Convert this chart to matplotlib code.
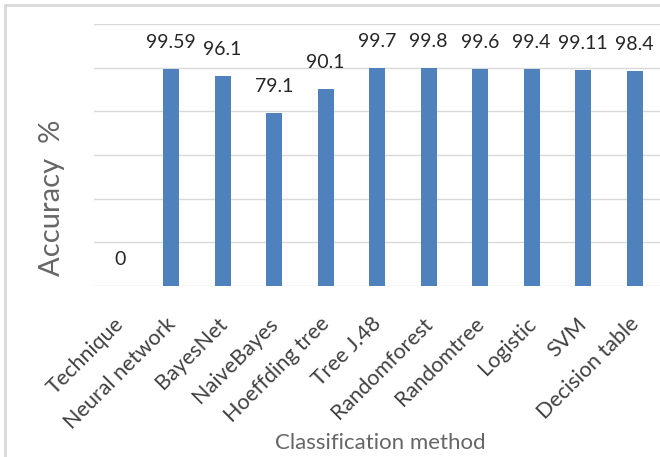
"""
Accuracy by classification method - Excel-style column chart
"""

import matplotlib.pyplot as plt
from matplotlib.patches import Rectangle
from matplotlib.transforms import ScaledTranslation

plt.rcParams['font.family'] = ['Lato', 'DejaVu Sans']

methods = ['Technique', 'Neural network', 'BayesNet', 'NaiveBayes', 'Hoeffding tree',
           'Tree J.48', 'Randomforest', 'Randomtree', 'Logistic', 'SVM', 'Decision table']
accuracy = [0, 99.59, 96.1, 79.1, 90.1, 99.7, 99.8, 99.6, 99.4, 99.11, 98.4]
value_labels = ['0', '99.59', '96.1', '79.1', '90.1', '99.7', '99.8', '99.6', '99.4', '99.11', '98.4']
y_grid = [0, 20, 40, 60, 80, 100, 120]


def main():
    fig = plt.figure(figsize=(6.6, 4.57), dpi=100)
    ax = fig.add_axes([0.1424, 0.374, 0.858, 0.5733])

    # light outer frame like the copied Excel chart
    fig.patches.append(Rectangle((5 / 660, -0.05), 1.2, 1 - 5 / 457 + 0.05,
                                 transform=fig.transFigure, fill=False,
                                 edgecolor='#d9d9d9', linewidth=2))

    x = range(len(methods))
    ax.bar(x, accuracy, width=0.31, color='#4f81bd', zorder=3)

    for i, (v, lab) in enumerate(zip(accuracy, value_labels)):
        ax.annotate(lab, (i, v), xytext=(0, 13), textcoords='offset points',
                    ha='center', va='bottom', fontsize=14, color='#262626')

    ax.set_ylim(0, 120)
    ax.set_xlim(-0.5, len(methods) - 0.5)
    ax.set_yticks(y_grid)
    ax.set_yticklabels([])
    ax.yaxis.grid(True, color='#d9d9d9', linewidth=1)
    ax.tick_params(axis='both', length=0)
    for s in ax.spines.values():
        s.set_visible(False)

    ax.set_xticks(list(x))
    ax.set_xticklabels(methods, rotation=45, ha='right', rotation_mode='anchor',
                       fontsize=15.5, color='#404040')
    ax.tick_params(axis='x', pad=20)
    shift = ScaledTranslation(-0.06, 0, fig.dpi_scale_trans)
    for lab in ax.get_xticklabels():
        lab.set_transform(lab.get_transform() + shift)

    fig.text(0.079, 0.567, 'Accuracy  %', rotation=90, ha='center', va='center',
             fontsize=21, color='#666666')
    fig.text(0.576, 0.031, 'Classification method', ha='center', va='center',
             fontsize=16, color='#666666')

    fig.savefig('out.png', dpi=100)
    plt.close()


if __name__ == "__main__":
    main()
